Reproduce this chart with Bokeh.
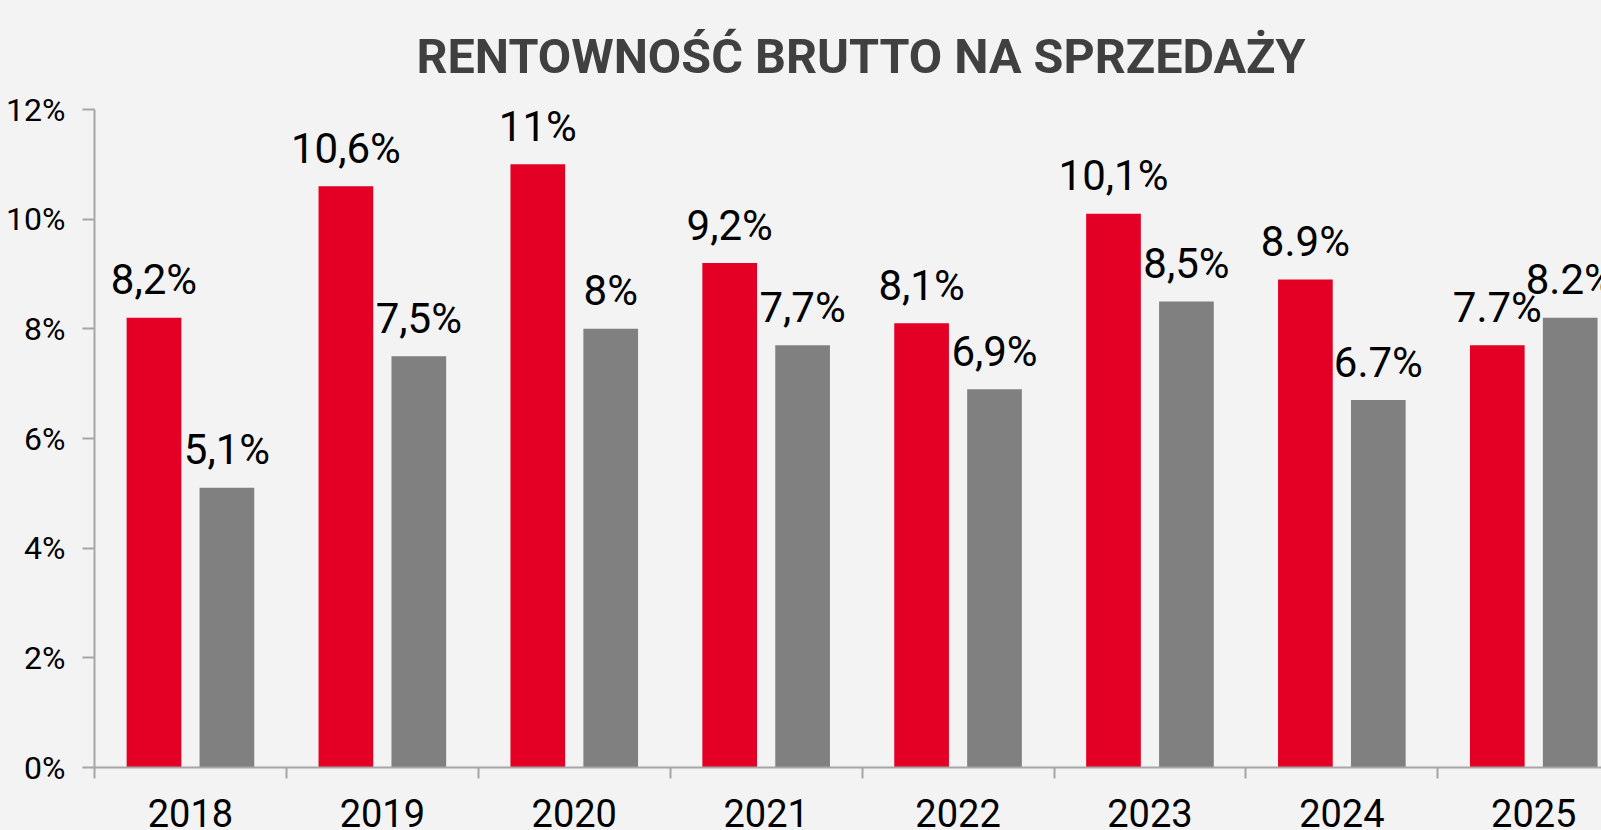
from bokeh.plotting import figure
from bokeh.models import Range1d, FixedTicker, ColumnDataSource
from bokeh.core.properties import value
from bokeh.embed import file_html
from bokeh.resources import INLINE

years = ["2018", "2019", "2020", "2021", "2022", "2023", "2024", "2025"]
red_vals = [8.2, 10.6, 11.0, 9.2, 8.1, 10.1, 8.9, 7.7]
gray_vals = [5.1, 7.5, 8.0, 7.7, 6.9, 8.5, 6.7, 8.2]
red_labels = ["8,2%", "10,6%", "11%", "9,2%", "8,1%", "10,1%", "8.9%", "7.7%"]
gray_labels = ["5,1%", "7,5%", "8%", "7,7%", "6,9%", "8,5%", "6.7%", "8.2%"]
y_ticks = [0, 2, 4, 6, 8, 10, 12]

BG = "#f3f3f3"
RED = "#e30024"
GRAY = "#808080"
AXIS = "#a6a6a6"
FONT = "Roboto"

n = len(years)
centers = [i + 0.5 for i in range(n)]
bounds = [i for i in range(n + 1)]
off = 0.19
bw = 0.285

red_src = ColumnDataSource(dict(x=[c - off for c in centers], top=red_vals, lab=red_labels))
gray_src = ColumnDataSource(dict(x=[c + off for c in centers], top=gray_vals, lab=gray_labels))

p = figure(width=1601, height=837, output_backend="svg", toolbar_location=None,
           x_range=Range1d(0, 7.853), y_range=Range1d(0, 12),
           background_fill_color=BG, border_fill_color=BG, outline_line_color=None,
           min_border_left=94, min_border_right=0, min_border_top=109, min_border_bottom=70)

p.title.text = "RENTOWNOŚĆ BRUTTO NA SPRZEDAŻY"
p.title.text_font = FONT
p.title.text_font_style = "bold"
p.title.text_font_size = "48.5px"
p.title.text_color = "#404040"
p.title.align = "left"
p.title.offset = 322
p.title.standoff = 50

p.xgrid.visible = False
p.ygrid.visible = False

p.vbar(x="x", top="top", width=bw, source=red_src, color=RED, line_color=None)
p.vbar(x="x", top="top", width=bw, source=gray_src, color=GRAY, line_color=None)

for src in (red_src, gray_src):
    p.text(x="x", y="top", text="lab", source=src, text_align="center",
           text_baseline="alphabetic", y_offset=-38, text_font=value(FONT),
           text_font_size="42px", text_color="#000000")

# x axis
xa = p.xaxis[0]
xa.ticker = FixedTicker(ticks=centers, minor_ticks=bounds)
xa.major_label_overrides = {c: y for c, y in zip(centers, years)}
xa.major_tick_out = 0
xa.major_tick_in = 0
xa.minor_tick_out = 11
xa.minor_tick_in = 0
xa.minor_tick_line_color = AXIS
xa.minor_tick_line_width = 2
xa.axis_line_color = AXIS
xa.axis_line_width = 2
xa.major_label_text_font = FONT
xa.major_label_text_font_size = "38px"
xa.major_label_text_color = "#000000"
xa.major_label_standoff = 20

# y axis
ya = p.yaxis[0]
ya.ticker = FixedTicker(ticks=y_ticks)
ya.major_label_overrides = {t: f"{t}%" for t in y_ticks}
ya.major_tick_out = 12
ya.major_tick_in = 0
ya.minor_tick_out = 0
ya.minor_tick_in = 0
ya.major_tick_line_color = AXIS
ya.major_tick_line_width = 2
ya.axis_line_color = AXIS
ya.axis_line_width = 2
ya.major_label_text_font = FONT
ya.major_label_text_font_size = "32px"
ya.major_label_text_color = "#000000"
ya.major_label_standoff = 17

html = file_html(p, INLINE)
html = html.replace("<head>", "<head><style>html,body{background:#f3f3f3;overflow:hidden;}</style>", 1)
open("out.html", "w").write(html)
